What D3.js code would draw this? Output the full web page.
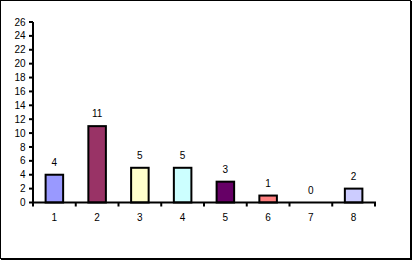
<!DOCTYPE html>
<html>
<head>
<meta charset="utf-8">
<script src="https://cdn.jsdelivr.net/npm/d3@7"></script>
<style>
	body { margin: 0; background: #fff; }
	svg text { font-family: 'Liberation Sans', Arial, sans-serif; font-size: 10px; fill: #000; }
</style>
</head>
<body>
<svg id="chart" width="413" height="261"></svg>
<script>
const categories = ['1', '2', '3', '4', '5', '6', '7', '8']
const values = [4, 11, 5, 5, 3, 1, 0, 2]
const colours = ['#9999ff', '#993366', '#ffffcc', '#ccffff', '#660066', '#ff8080', '#0066cc', '#ccccff']
const yTicks = d3.range(0, 27, 2)

const plotLeft = 33, plotRight = 375, plotTop = 22, plotBottom = 202.5

const svg = d3.select('#chart')

// outer frame, slightly heavier on the right and bottom
svg.append('rect')
	.attr('x', 0.5).attr('y', 0.5)
	.attr('width', 410).attr('height', 258)
	.attr('fill', 'none').attr('stroke', '#000').attr('stroke-width', 1)
svg.append('line').attr('x1', 411.5).attr('x2', 411.5).attr('y1', 1).attr('y2', 260)
	.attr('stroke', '#000').attr('stroke-width', 1)
svg.append('line').attr('x1', 1).attr('x2', 412).attr('y1', 259.5).attr('y2', 259.5)
	.attr('stroke', '#000').attr('stroke-width', 1)

const x = d3.scaleBand()
	.domain(categories)
	.range([plotLeft, plotRight])
	.paddingInner(0)

const y = d3.scaleLinear()
	.domain([0, 26])
	.range([plotBottom, plotTop])

const barW = x.bandwidth()*0.41

svg.append('g')
	.selectAll('rect')
	.data(values)
	.enter()
	.append('rect')
	.attr('x', (d, i) => x(categories[i]) + (x.bandwidth() - barW)/2)
	.attr('y', d => y(d))
	.attr('width', barW)
	.attr('height', d => y(0) - y(d))
	.attr('fill', (d, i) => colours[i])
	.attr('stroke', d => d > 0 ? '#000' : 'none')
	.attr('stroke-width', 2)

svg.append('g')
	.selectAll('text')
	.data(values)
	.enter()
	.append('text')
	.attr('x', (d, i) => x(categories[i]) + x.bandwidth()/2)
	.attr('y', d => y(d) - 9)
	.attr('text-anchor', 'middle')
	.text(d => d)

// y axis
const yAxis = svg.append('g')
yAxis.append('line')
	.attr('x1', plotLeft).attr('x2', plotLeft)
	.attr('y1', plotTop).attr('y2', plotBottom)
	.attr('stroke', '#000').attr('stroke-width', 2)
const yt = yAxis.selectAll('.yt')
	.data(yTicks)
	.enter()
	.append('g')
	.attr('transform', d => `translate(0, ${y(d)})`)
yt.append('line')
	.attr('x1', plotLeft - 4).attr('x2', plotLeft)
	.attr('stroke', '#000').attr('stroke-width', 2)
yt.append('text')
	.attr('x', plotLeft - 7.5)
	.attr('dy', 3.6)
	.attr('text-anchor', 'end')
	.text(d => d)

// x axis
const xAxis = svg.append('g')
xAxis.append('line')
	.attr('x1', plotLeft - 1).attr('x2', plotRight + 1)
	.attr('y1', plotBottom).attr('y2', plotBottom)
	.attr('stroke', '#000').attr('stroke-width', 2)
xAxis.selectAll('.xt')
	.data(d3.range(categories.length + 1))
	.enter()
	.append('line')
	.attr('x1', i => plotLeft + i*x.step())
	.attr('x2', i => plotLeft + i*x.step())
	.attr('y1', plotBottom).attr('y2', plotBottom + 4)
	.attr('stroke', '#000').attr('stroke-width', 2)
xAxis.selectAll('.xl')
	.data(categories)
	.enter()
	.append('text')
	.attr('x', d => x(d) + x.bandwidth()/2)
	.attr('y', 220.5)
	.attr('text-anchor', 'middle')
	.text(d => d)
</script>
</body>
</html>
